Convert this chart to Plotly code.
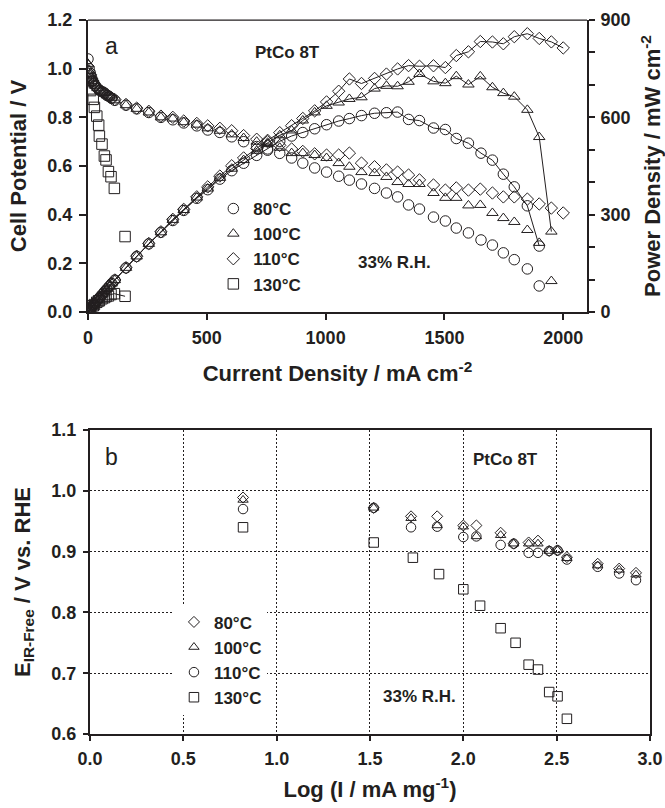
import plotly.graph_objects as go

# ---------------- Panel (a): polarization & power density ----------------
cur_80 = [0, 5, 10, 15, 20, 25, 30, 40, 50, 60, 70, 80, 90, 100, 113,
          160, 205, 256, 307, 357, 403, 458, 504, 555, 605,
          655, 710, 756, 807, 857, 904, 954, 1004, 1055, 1100,
          1151, 1206, 1256, 1303, 1349, 1395, 1454, 1504, 1550, 1601,
          1654, 1702, 1748, 1794, 1849, 1899]
volt_80 = [1.04, 1.00, 0.98, 0.965, 0.95, 0.94, 0.93, 0.92, 0.91, 0.905, 0.90, 0.89, 0.885, 0.878, 0.87,
           0.85, 0.835, 0.82, 0.80, 0.79, 0.777, 0.765, 0.748, 0.738, 0.72,
           0.70, 0.68, 0.665, 0.652, 0.633, 0.612, 0.592, 0.575, 0.558, 0.542,
           0.526, 0.508, 0.489, 0.473, 0.44, 0.423, 0.39, 0.374, 0.345, 0.325,
           0.296, 0.275, 0.243, 0.215, 0.177, 0.107]
pow_80 = [0, 5.0, 9.8, 14.5, 19.0, 23.5, 27.9, 36.8, 45.5, 54.3, 63.0, 71.2, 79.7, 87.8, 98.3,
          136.0, 171.2, 209.9, 245.6, 282.0, 313.1, 350.4, 377.0, 409.6, 435.6,
          458.5, 482.8, 502.7, 526.2, 542.5, 553.2, 564.8, 577.3, 588.7, 596.2,
          605.4, 612.6, 614.2, 616.3, 593.6, 590.1, 567.1, 562.5, 534.8, 520.3,
          489.6, 468.1, 424.8, 385.7, 327.3, 203.2]

cur_100 = [0, 5, 10, 15, 20, 25, 30, 40, 50, 60, 70, 80, 90, 100, 113,
           160, 205, 256, 307, 357, 403, 458, 504, 555, 605,
           655, 710, 756, 807, 857, 904, 954, 1004, 1055, 1100,
           1151, 1206, 1256, 1303, 1349, 1395, 1454, 1504, 1550, 1601,
           1651, 1702, 1748, 1794, 1849, 1899, 1950]
volt_100 = [1.02, 0.99, 0.975, 0.96, 0.95, 0.94, 0.93, 0.92, 0.91, 0.905, 0.90, 0.89, 0.885, 0.88, 0.87,
            0.85, 0.835, 0.82, 0.80, 0.795, 0.78, 0.77, 0.755, 0.745, 0.73,
            0.715, 0.70, 0.69, 0.675, 0.653, 0.653, 0.645, 0.633, 0.612, 0.597,
            0.575, 0.571, 0.555, 0.534, 0.526, 0.526, 0.489, 0.469, 0.469, 0.438,
            0.44, 0.407, 0.386, 0.37, 0.337, 0.284, 0.127]
pow_100 = [0, 4.95, 9.75, 14.4, 19.0, 23.5, 27.9, 36.8, 45.5, 54.3, 63.0, 71.2, 79.7, 88.0, 98.3,
           136.0, 171.2, 209.9, 245.6, 283.8, 314.3, 352.7, 380.5, 413.5, 441.7,
           468.3, 497.0, 521.6, 544.7, 559.6, 590.3, 615.3, 635.5, 645.7, 656.7,
           661.8, 688.6, 697.1, 695.8, 709.6, 733.8, 711.0, 705.4, 727.0, 701.2,
           726.4, 692.7, 674.7, 663.8, 623.1, 539.3, 247.7]

cur_110 = [0, 5, 10, 15, 20, 25, 30, 40, 50, 60, 70, 80, 90, 100, 113,
           160, 205, 256, 307, 357, 403, 458, 504, 555, 605,
           655, 710, 756, 807, 857, 904, 954, 1004, 1055, 1100,
           1151, 1206, 1256, 1303, 1349, 1395, 1454, 1504, 1550, 1601,
           1651, 1702, 1748, 1794, 1849, 1899, 1950, 2000]
volt_110 = [1.01, 0.99, 0.975, 0.96, 0.95, 0.94, 0.93, 0.92, 0.912, 0.905, 0.90, 0.893, 0.887, 0.88, 0.873,
            0.853, 0.838, 0.825, 0.805, 0.80, 0.785, 0.775, 0.765, 0.755, 0.745,
            0.725, 0.71, 0.70, 0.685, 0.67, 0.66, 0.65, 0.645, 0.645, 0.653,
            0.612, 0.597, 0.584, 0.575, 0.563, 0.543, 0.522, 0.501, 0.51, 0.501,
            0.505, 0.489, 0.473, 0.473, 0.464, 0.444, 0.427, 0.407]
pow_110 = [0, 4.95, 9.75, 14.4, 19.0, 23.5, 27.9, 36.8, 45.6, 54.3, 63.0, 71.4, 79.8, 88.0, 98.6,
           136.5, 171.8, 211.2, 247.1, 285.6, 316.4, 355.0, 385.6, 419.0, 450.7,
           474.9, 504.1, 529.2, 552.8, 574.2, 596.6, 620.1, 647.6, 680.5, 718.3,
           704.4, 720.0, 733.5, 749.2, 759.5, 757.5, 759.0, 753.5, 790.5, 802.1,
           833.8, 832.3, 826.8, 848.6, 857.9, 843.2, 832.7, 814.0]

cur_130 = [1, 11, 22, 27, 37, 45, 48, 59, 69, 76, 86, 97, 111, 156]
volt_130 = [0.947, 0.91, 0.874, 0.841, 0.805, 0.768, 0.723, 0.69, 0.641, 0.625, 0.577, 0.556, 0.508, 0.31]
pow_130 = [0.9, 10.0, 19.2, 22.7, 29.8, 34.6, 34.7, 40.7, 44.2, 47.5, 49.6, 53.9, 56.4, 48.4]

names_a = ["80°C", "100°C", "110°C", "130°C"]
symbols_a = ["circle-open", "triangle-up-open", "diamond-open", "square-open"]
sizes_a = [10.5, 10, 9.5, 10.5]

# ---------------- Panel (b): IR-free potential vs log mass activity ----------------
logi_b = [0.82, 1.52, 1.72, 1.86, 2.0, 2.07, 2.2, 2.27, 2.35, 2.40, 2.46, 2.505, 2.555, 2.72, 2.835, 2.925]
e_80 = [0.989, 0.972, 0.958, 0.958, 0.943, 0.943, 0.931, 0.913, 0.915, 0.918, 0.901, 0.902, 0.891, 0.880, 0.872, 0.865]
e_100 = [0.985, 0.972, 0.955, 0.943, 0.941, 0.925, 0.927, 0.913, 0.913, 0.913, 0.901, 0.902, 0.889, 0.877, 0.870, 0.862]
e_110 = [0.970, 0.972, 0.940, 0.941, 0.924, 0.925, 0.911, 0.913, 0.898, 0.898, 0.901, 0.902, 0.887, 0.875, 0.864, 0.853]
logi_130 = [0.82, 1.52, 1.73, 1.87, 2.0, 2.09, 2.2, 2.28, 2.35, 2.40, 2.46, 2.505, 2.555]
e_130 = [0.940, 0.915, 0.890, 0.863, 0.838, 0.811, 0.774, 0.750, 0.714, 0.706, 0.669, 0.662, 0.625]

names_b = ["80°C", "100°C", "110°C", "130°C"]
symbols_b = ["diamond-open", "triangle-up-open", "circle-open", "square-open"]
sizes_b = [8.5, 9, 9.5, 9.5]

FONT = "Liberation Sans"
INK = "#231f20"

fig = go.Figure()

pol_sets = [(cur_80, volt_80), (cur_100, volt_100), (cur_110, volt_110), (cur_130, volt_130)]
pow_sets = [(cur_80, pow_80), (cur_100, pow_100), (cur_110, pow_110), (cur_130, pow_130)]

for (x, y), nm, sym, sz in zip(pol_sets, names_a, symbols_a, sizes_a):
    fig.add_trace(go.Scatter(
        x=x, y=y, mode="markers", name=nm, legend="legend",
        marker=dict(symbol=sym, size=sz, color=INK, line=dict(width=1, color=INK)),
        xaxis="x", yaxis="y"))

for (x, y), nm, sym, sz in zip(pow_sets, names_a, symbols_a, sizes_a):
    fig.add_trace(go.Scatter(
        x=x, y=y, mode="lines+markers", name=nm, showlegend=False,
        line=dict(color=INK, width=1),
        marker=dict(symbol=sym, size=sz, color=INK, line=dict(width=1, color=INK)),
        xaxis="x", yaxis="y2"))

b_sets = [(logi_b, e_80), (logi_b, e_100), (logi_b, e_110), (logi_130, e_130)]
for (x, y), nm, sym, sz in zip(b_sets, names_b, symbols_b, sizes_b):
    fig.add_trace(go.Scatter(
        x=x, y=y, mode="markers", name=nm, legend="legend2",
        marker=dict(symbol=sym, size=sz, color=INK, line=dict(width=1, color=INK)),
        xaxis="x2", yaxis="y3"))

tickfont = dict(family=FONT, size=18, color=INK, weight="bold")
titlefont = dict(family=FONT, size=22, color=INK, weight="bold")

common = dict(showline=True, linecolor=INK, linewidth=2, ticks="outside", tickcolor=INK,
              tickwidth=1.5, zeroline=False, tickfont=tickfont, automargin=False)

fig.update_layout(
    width=665, height=808, autosize=False,
    margin=dict(l=0, r=0, t=0, b=0),
    paper_bgcolor="white", plot_bgcolor="white",
    xaxis=dict(domain=[0.1323, 0.8827], anchor="y", range=[0, 2100],
               tickvals=[0, 500, 1000, 1500, 2000], ticklen=6, showgrid=False,
               ticklabelstandoff=2,
               title=dict(text="Current Density / mA cm<sup>-2</sup>", font=titlefont, standoff=19),
               **common),
    yaxis=dict(domain=[0.6139, 0.9752], anchor="x", range=[0, 1.2], dtick=0.2,
               tickformat=".1f", ticklen=7, showgrid=False, ticklabelstandoff=3,
               title=dict(text="Cell Potential / V", font=titlefont),
               **common),
    yaxis2=dict(overlaying="y", side="right", anchor="x", range=[0, 900],
                tick0=0, dtick=300, ticklen=6, showgrid=False, ticklabelstandoff=2,
                minor=dict(dtick=100, ticks="outside", ticklen=6, tickcolor=INK,
                           tickwidth=1.5, showgrid=False),
                title=dict(text="Power Density / mW cm<sup>-2</sup>", font=titlefont),
                **common),
    xaxis2=dict(domain=[0.1353, 0.9774], anchor="y3", range=[0, 3], dtick=0.5,
                tickformat=".1f", ticklen=5, mirror=True, ticklabelstandoff=2,
                showgrid=True, gridcolor=INK, gridwidth=1, griddash="2px,2px",
                title=dict(text="Log (I / mA mg<sup>-1</sup>)", font=titlefont, standoff=14),
                **common),
    yaxis3=dict(domain=[0.0916, 0.4678], anchor="x2", range=[0.6, 1.1], dtick=0.1,
                tickformat=".1f", ticklen=5, mirror=True, ticklabelstandoff=3,
                showgrid=True, gridcolor=INK, gridwidth=1, griddash="2px,2px",
                title=dict(text="E<sub>IR-Free</sub> / V vs. RHE", font=titlefont),
                **common),
    legend=dict(x=0.3208, y=0.7636, xanchor="left", yanchor="top",
                bgcolor="rgba(0,0,0,0)", borderwidth=0, tracegroupgap=0,
                font=dict(family=FONT, size=17, color=INK, weight="bold")),
    legend2=dict(x=0.2616, y=0.252, xanchor="left", yanchor="top",
                 bgcolor="white", borderwidth=0, tracegroupgap=0,
                 font=dict(family=FONT, size=17, color=INK, weight="bold")),
    showlegend=True,
)

# top border of panel (a)
fig.add_shape(type="line", xref="x domain", yref="y domain", x0=0, x1=1, y0=1, y1=1,
              line=dict(color=INK, width=1.3))

ann_font_b = dict(family=FONT, size=17, color=INK, weight="bold")
ann_font_n = dict(family=FONT, size=23, color=INK)
for txt, x, y, f in [("a", 0.1684, 0.9431, ann_font_n),
                     ("PtCo 8T", 0.4316, 0.9356, ann_font_b),
                     ("33% R.H.", 0.5925, 0.6757, ann_font_b),
                     ("b", 0.1684, 0.4344, ann_font_n),
                     ("PtCo 8T", 0.7609, 0.4307, ann_font_b),
                     ("33% R.H.", 0.6301, 0.1386, ann_font_b)]:
    fig.add_annotation(text=txt, x=x, y=y, xref="paper", yref="paper",
                       showarrow=False, font=f, xanchor="center", yanchor="middle")

fig.write_html("out.html")
